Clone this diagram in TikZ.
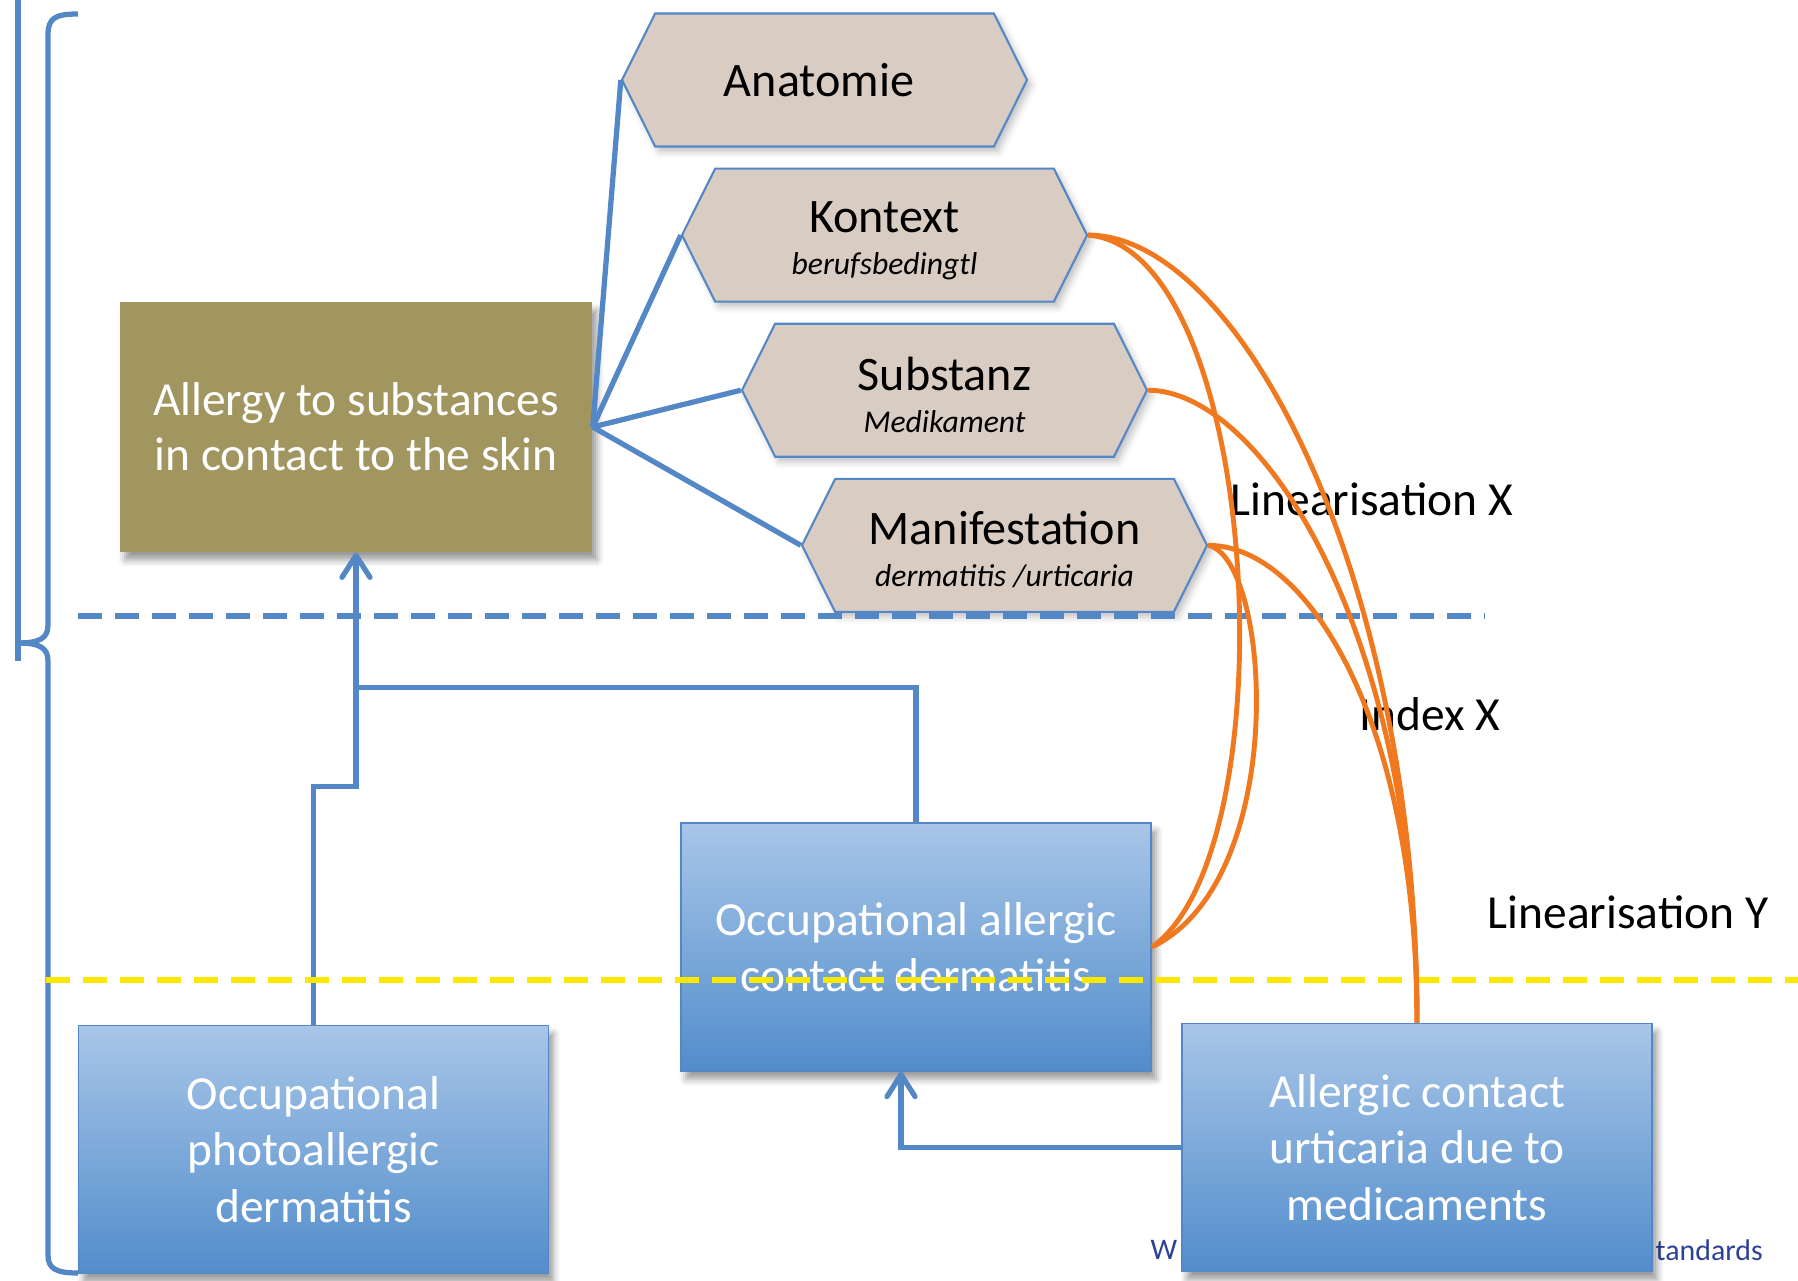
\documentclass[tikz,border=0pt]{standalone}
\usepackage{fontspec}
\setmainfont{Carlito}
\usetikzlibrary{positioning,shapes.symbols,arrows.meta,shadows.blur}

\definecolor{linkblue}{RGB}{84,135,198}
\definecolor{hexfill}{RGB}{217,205,195}
\definecolor{olivebox}{RGB}{161,150,95}
\definecolor{boxtop}{RGB}{168,198,232}
\definecolor{boxbottom}{RGB}{82,141,203}
\definecolor{linkorange}{RGB}{240,121,32}
\definecolor{lineyellow}{RGB}{250,232,0}
\definecolor{footblue}{RGB}{45,65,150}

\begin{document}
\begin{tikzpicture}
[
    x = 0.1mm, y = -0.1mm,
    node distance = 2.0mm,
    hexstyle/.style   = {shape=signal, signal to=west and east,
                         signal pointer angle=127,
                         draw=linkblue, line width=0.6pt, fill=hexfill,
                         minimum width=40.5mm, minimum height=13.3mm,
                         inner sep=0pt, align=center,
                         font=\fontsize{13.7}{15}\selectfont,
                         blur shadow={shadow xshift=0.4mm, shadow yshift=-0.5mm,
                                      shadow opacity=25}},
    concept/.style    = {fill=olivebox, text=white,
                         minimum width=47.2mm, minimum height=25mm,
                         align=center, font=\fontsize{13.5}{15.6}\selectfont,
                         blur shadow={shadow xshift=0.5mm, shadow yshift=-0.8mm,
                                      shadow opacity=40}},
    bluebox/.style    = {draw=linkblue, line width=0.5pt,
                         top color=boxtop, bottom color=boxbottom,
                         text=white, minimum width=47mm, minimum height=24.8mm,
                         align=center, font=\fontsize{13.5}{16}\selectfont,
                         blur shadow={shadow xshift=0.5mm, shadow yshift=-0.8mm,
                                      shadow opacity=40}},
    bluelink/.style   = {draw=linkblue, line width=1.5pt},
    arr/.style        = {bluelink,
                         -{Straight Barb[length=2.2mm,width=2.8mm,round]}},
    orangelink/.style = {draw=linkorange, line width=1.4pt},
    divider/.style    = {line width=1.8pt,
                         dash pattern=on 2.4mm off 1.3mm},
    levellabel/.style = {anchor=west, inner sep=0pt,
                         font=\fontsize{13.5}{15}\selectfont},
    footnote/.style   = {anchor=west, inner sep=0pt, text=footblue,
                         font=\fontsize{8.5}{10}\selectfont}
]

\useasboundingbox (0,0) rectangle (1798,1280);

% bracket on the left
\draw[bluelink] (18,0) -- (18,661);
\draw[bluelink] (78,14) .. controls (55,14) and (48,18) .. (48,35)
    -- (48,625) .. controls (48,638) and (40,643) .. (18,643);
\draw[bluelink] (18,643) .. controls (40,643) and (48,648) .. (48,661)
    -- (48,1255) .. controls (48,1268) and (55,1273) .. (78,1273);

\node (allergy) [concept] at (356,427) {
Allergy to substances\\in contact to the skin
};

\node (ana) [hexstyle] at (824.5,80) {
Anatomie
};
\node (kon) [hexstyle, below=of ana, xshift=6mm] {
\rule{0pt}{12pt}Kontext\\[-3pt]{\small\itshape berufsbedingtl}
};
\node (sub) [hexstyle, below=of kon, xshift=6mm] {
\rule{0pt}{12pt}Substanz\\[-3pt]{\small\itshape Medikament}
};
\node (man) [hexstyle, below=of sub, xshift=6mm] {
\rule{0pt}{12pt}Manifestation\\[-3pt]{\small\itshape dermatitis /urticaria}
};

\draw[bluelink] (allergy.east) -- (ana.west);
\draw[bluelink] (allergy.east) -- (kon.west);
\draw[bluelink] (allergy.east) -- (sub.west);
\draw[bluelink] (allergy.east) -- (man.west);

% index level
\draw[divider, linkblue] (78,616) -- (1485,616);

\node (occ) [bluebox] at (916,947) {
Occupational allergic\\contact dermatitis
};
\node (photo) [bluebox] at (313.5,1149.5) {
Occupational\\photoallergic\\dermatitis
};

\node (footw) [footnote] at (1150,1250) {W};
\node (foott) [footnote] at (1655,1250) {tandards};

\node (urt) [bluebox] at (1417,1147.5) {
Allergic contact\\urticaria due to\\medicaments
};

\draw[arr] (photo.north) -- ++(0,-238) -| (allergy.south);
\draw[bluelink] (occ.north) |- ([yshift=-13.5mm]allergy.south);
\draw[arr] (urt.west) -| ([xshift=-1.5mm]occ.south);

% linearisation level
\draw[divider, lineyellow] (46,980) -- (1798,980);

\node (linx) [levellabel] at (1230,499) {Linearisation X};
\node (idx)  [levellabel] at (1359,714) {Index X};
\node (liny) [levellabel] at (1487,912) {Linearisation Y};

\draw[orangelink] (kon.east) .. controls +(150,0) and +(0,-450) .. (urt.north);
\draw[orangelink] (sub.east) .. controls +(110,0) and +(0,-400) .. (urt.north);
\draw[orangelink] (man.east) .. controls +(100,0) and +(0,-300) .. (urt.north);
\draw[orangelink] (kon.east) .. controls +(173,14) and +(139,-97) .. (occ.east);
\draw[orangelink] (man.east) .. controls +(63,13) and +(139,-67) .. (occ.east);

\end{tikzpicture}
\end{document}
